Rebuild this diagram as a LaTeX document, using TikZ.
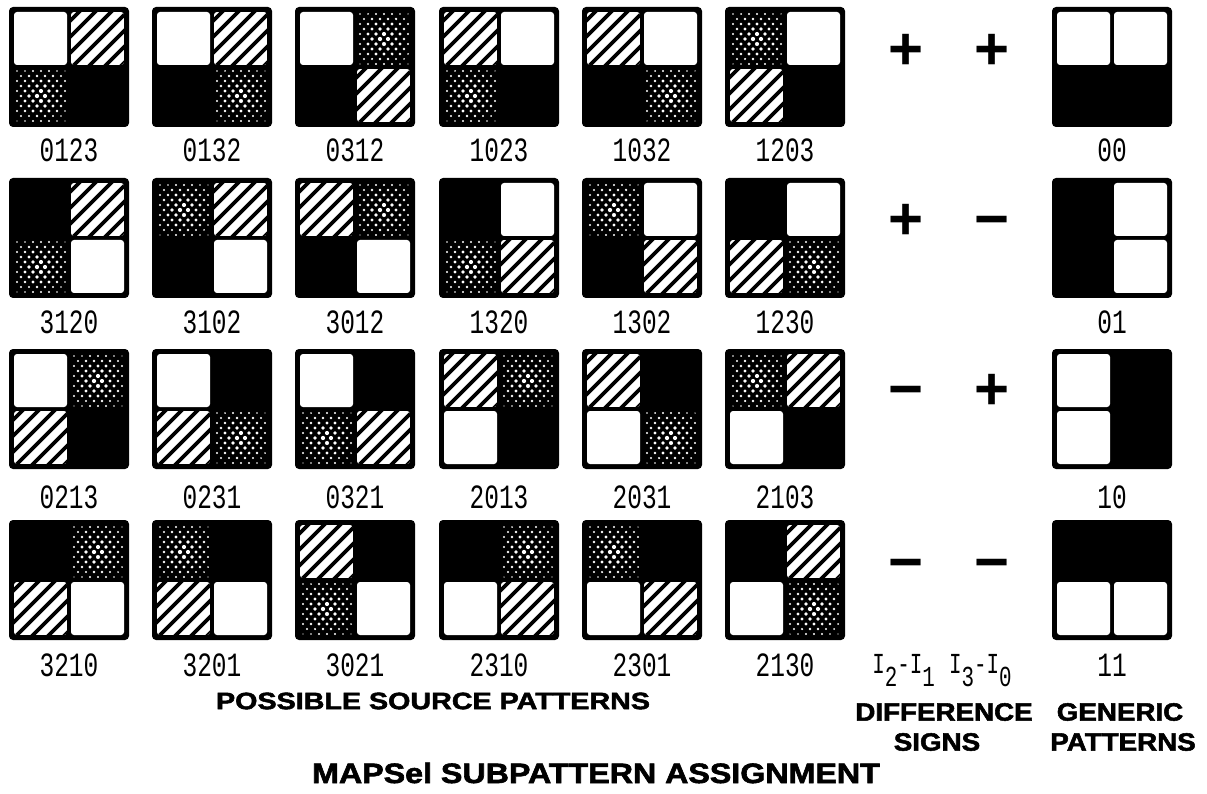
\documentclass[tikz,border=0pt]{standalone}
\usepackage{fontspec}
\usepackage{graphicx}
\newfontfamily\labfont[FakeStretch=0.72]{Liberation Mono}
\newfontfamily\headfont{Liberation Sans}[BoldFeatures={FakeBold=2}]
\newfontfamily\signfont{Liberation Sans}
\tikzset{
  tilebox/.style={fill=black, rounded corners=4pt, minimum width=120pt, minimum height=120pt, inner sep=0pt, outer sep=0pt},
  lab/.style={font=\labfont\fontsize{34}{34}\selectfont, inner sep=0pt},
  hatchline/.style={line width=3.8pt},
  signtxt/.style={font=\signfont\bfseries\fontsize{60}{60}\selectfont, inner sep=0pt, text height=0.58em, text depth=0pt},
  head/.style={inner sep=0pt}
}
\newcommand\qpos[3]{%
  \pgfmathsetmacro\qx{#1+5+57*mod(#3,2)}%
  \pgfmathsetmacro\qy{#2+5+57*int(#3/2)}%
}
\newcommand\wquad[3]{\qpos{#1}{#2}{#3}\fill[white,rounded corners=3pt] (\qx,\qy) rectangle ++(53,53);}
\newcommand\hquad[3]{\qpos{#1}{#2}{#3}%
  \begin{scope}
    \clip[rounded corners=3pt] (\qx,\qy) rectangle ++(53,53);
    \fill[white] (\qx,\qy) rectangle ++(53,53);
    \foreach \k in {-61,-45,...,51} \draw[hatchline] (\qx+\k-3,\qy+56) -- ++(59,-59);
  \end{scope}}
\newcommand\cquad[3]{\qpos{#1}{#2}{#3}%
  \begin{scope}
    \clip (\qx,\qy) rectangle ++(53,53);
    \foreach \j in {0,...,10}{\foreach \i in {0,...,6}{%
      \pgfmathsetmacro\px{\qx+3+\i*8+mod(\j,2)*4}%
      \pgfmathsetmacro\py{\qy+2+\j*5}%
      \pgfmathsetmacro\dd{veclen(\px-\qx-26.5,\py-\qy-26.5)}%
      \pgfmathsetmacro\rr{max(0.6,2.3-0.045*\dd)}%
      \fill[white] (\px,\py) circle[radius=\rr pt];}}
  \end{scope}}
\newcommand\ptile[6]{%
  \node[tilebox] (p#3#4#5#6) at (#1+60,#2+60) {};
  \wquad{#1}{#2}{#3}\hquad{#1}{#2}{#4}\cquad{#1}{#2}{#5}
  \node[lab] (l#3#4#5#6) at (#1+60,\LY) {#3#4#5#6};}
\newcommand\gtile[5]{%
  \node[tilebox] (g#1) at (1112,#2+60) {};
  \wquad{1052}{#2}{#4}\wquad{1052}{#2}{#5}
  \node[lab] (gl#1) at (1112,#3) {#1};}
\newcommand\subdig[1]{\raisebox{-13pt}{#1}}
\begin{document}
\begin{tikzpicture}[x=1pt,y=-1pt]
\useasboundingbox (0,0) rectangle (1207,794);
\fill[white] (0,0) rectangle (1207,794);
% row 1
\def\LY{150}
\ptile{9}{7}{0}{1}{2}{3}
\ptile{152}{7}{0}{1}{3}{2}
\ptile{295}{7}{0}{3}{1}{2}
\ptile{439}{7}{1}{0}{2}{3}
\ptile{582}{7}{1}{0}{3}{2}
\ptile{725}{7}{1}{2}{0}{3}
% row 2
\def\LY{322}
\ptile{9}{178}{3}{1}{2}{0}
\ptile{152}{178}{3}{1}{0}{2}
\ptile{295}{178}{3}{0}{1}{2}
\ptile{439}{178}{1}{3}{2}{0}
\ptile{582}{178}{1}{3}{0}{2}
\ptile{725}{178}{1}{2}{3}{0}
% row 3
\def\LY{497}
\ptile{9}{349}{0}{2}{1}{3}
\ptile{152}{349}{0}{2}{3}{1}
\ptile{295}{349}{0}{3}{2}{1}
\ptile{439}{349}{2}{0}{1}{3}
\ptile{582}{349}{2}{0}{3}{1}
\ptile{725}{349}{2}{1}{0}{3}
% row 4
\def\LY{665}
\ptile{9}{520}{3}{2}{1}{0}
\ptile{152}{520}{3}{2}{0}{1}
\ptile{295}{520}{3}{0}{2}{1}
\ptile{439}{520}{2}{3}{1}{0}
\ptile{582}{520}{2}{3}{0}{1}
\ptile{725}{520}{2}{1}{3}{0}
% generic patterns
\gtile{00}{7}{150}{0}{1}
\gtile{01}{178}{322}{1}{3}
\gtile{10}{349}{497}{0}{2}
\gtile{11}{520}{665}{2}{3}
% difference signs
\node[signtxt] (s1a) at (906,67) {+};
\node[signtxt] (s1b) at (992,67) {+};
\node[signtxt] (s2a) at (906,237) {+};
\node[signtxt] (s2b) at (992,237) {−};
\node[signtxt] (s3a) at (906,407) {−};
\node[signtxt] (s3b) at (992,407) {+};
\node[signtxt] (s4a) at (906,580) {−};
\node[signtxt] (s4b) at (992,580) {−};
% difference label
\node[inner sep=0pt, anchor=base, font=\labfont\fontsize{29}{29}\selectfont] (dlab) at (942,673)
  {I\subdig{2}-I\subdig{1}\hspace{14pt}I\subdig{3}-I\subdig{0}};
% headings
\node[head] (hposs) at (433,701) {\headfont\bfseries\fontsize{23.7}{24}\selectfont\scalebox{1.21}[1]{POSSIBLE SOURCE PATTERNS}};
\node[head] (hdiff) at (944,712) {\headfont\bfseries\fontsize{25}{25}\selectfont\scalebox{1.11}[1]{DIFFERENCE}};
\node[head] (hsign) at (937,742) {\headfont\bfseries\fontsize{25}{25}\selectfont\scalebox{1.11}[1]{SIGNS}};
\node[head] (hgen) at (1120,712) {\headfont\bfseries\fontsize{25}{25}\selectfont\scalebox{1.11}[1]{GENERIC}};
\node[head] (hpat) at (1123,742) {\headfont\bfseries\fontsize{25}{25}\selectfont\scalebox{1.11}[1]{PATTERNS}};
\node[head] (htitle) at (596,773) {\headfont\bfseries\fontsize{28}{28}\selectfont\scalebox{1.15}[1]{MAPSel SUBPATTERN ASSIGNMENT}};
\end{tikzpicture}
\end{document}
